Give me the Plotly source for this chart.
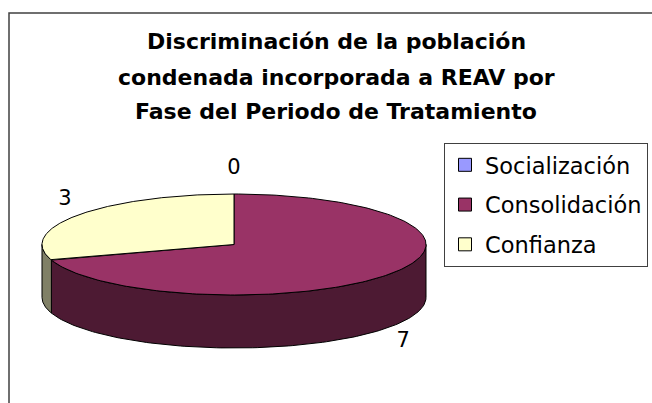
import numpy as np
import plotly.graph_objects as go

# ---------------- data ----------------
categories = ["Socialización", "Consolidación", "Confianza"]
values = [0, 7, 3]
label_texts = ["0", "7", "3"]
title_lines = [
    "Discriminación de la población",
    "condenada incorporada a REAV por",
    "Fase del Periodo de Tratamiento",
]

# ---------------- style / geometry ----------------
W, H = 652, 403
top_colors = ["#9999FF", "#993366", "#FFFFCC"]
side_colors = ["#4D4D80", "#4D1A33", "#808066"]
CX, CY = 234.0, 244.5      # centre of the top ellipse (px)
RX, RY = 192.0, 50.5       # radii of the top ellipse (px)
DEPTH = 53.0               # thickness of the pie (px)
LBL_DX, LBL_DY = 17.0, 25.0
FONT = "DejaVu Sans, Arial, sans-serif"


def rim(theta_deg, dz=0.0):
    t = np.radians(theta_deg)
    return CX + RX * np.sin(t), CY - RY * np.cos(t) + dz


fig = go.Figure()

total = float(sum(values))
starts = np.concatenate([[0.0], np.cumsum(values)[:-1]]) / total * 360.0
ends = np.cumsum(values) / total * 360.0

# side walls (front half only: 90..270 deg clockwise from top)
for i, (a0, a1) in enumerate(zip(starts, ends)):
    lo, hi = max(a0, 90.0), min(a1, 270.0)
    if hi <= lo:
        continue
    th = np.linspace(lo, hi, 120)
    xt, yt = rim(th)
    xb, yb = rim(th[::-1], DEPTH)
    xs = np.concatenate([xt, xb, xt[:1]])
    ys = np.concatenate([yt, yb, yt[:1]])
    fig.add_trace(go.Scatter(x=xs, y=ys, mode="lines", fill="toself",
                             fillcolor=side_colors[i],
                             line=dict(color="black", width=1),
                             hoverinfo="skip", showlegend=False))

# top faces
for i, (a0, a1) in enumerate(zip(starts, ends)):
    if a1 - a0 <= 0:
        continue
    th = np.linspace(a0, a1, 200)
    xa, ya = rim(th)
    xs = np.concatenate([[CX], xa, [CX]])
    ys = np.concatenate([[CY], ya, [CY]])
    fig.add_trace(go.Scatter(x=xs, y=ys, mode="lines", fill="toself",
                             fillcolor=top_colors[i],
                             line=dict(color="black", width=1),
                             hoverinfo="text", text=f"{categories[i]}: {values[i]}",
                             showlegend=False))

# data labels
mids = (starts + ends) / 2.0
lx, ly = [], []
for m in mids:
    t = np.radians(m)
    x = CX + (RX + LBL_DX) * np.sin(t)
    y = CY - (RY + LBL_DY) * np.cos(t) + (DEPTH if np.cos(t) < 0 else 0.0)
    lx.append(x)
    ly.append(y)
fig.add_trace(go.Scatter(x=lx, y=ly, mode="text", text=label_texts,
                         textposition="middle center",
                         textfont=dict(family=FONT, size=21, color="black"),
                         hoverinfo="skip", showlegend=False))

# legend entries
for i, c in enumerate(categories):
    fig.add_trace(go.Scatter(x=[None], y=[None], mode="markers", name=c,
                             legendgroup=c,
                             marker=dict(symbol="square", size=13,
                                         color=top_colors[i],
                                         line=dict(color="black", width=1))))

# title lines
title_y = [42, 77, 111.5]
for txt, yc in zip(title_lines, title_y):
    fig.add_annotation(text=f"<b>{txt}</b>", xref="paper", yref="paper",
                       x=336 / W, y=1 - yc / H, xanchor="center", yanchor="middle",
                       showarrow=False,
                       font=dict(family=FONT, size=22, color="black"))

# chart-area frame
fig.add_shape(type="rect", xref="paper", yref="paper",
              x0=9 / W, y0=1 - 13 / H, x1=1.2, y1=-0.2,
              line=dict(color="#404040", width=1.5), fillcolor="rgba(0,0,0,0)",
              layer="below")

fig.update_layout(
    width=W, height=H, autosize=False,
    margin=dict(l=0, r=0, t=0, b=0, pad=0),
    paper_bgcolor="white", plot_bgcolor="white",
    xaxis=dict(range=[0, W], visible=False, fixedrange=True),
    yaxis=dict(range=[H, 0], visible=False, fixedrange=True),
    showlegend=True,
    legend=dict(x=648 / W, xanchor="right", y=1 - 142.7 / H, yanchor="top",
                bordercolor="#404040", borderwidth=1, bgcolor="white",
                font=dict(family=FONT, size=22.5, color="black"),
                traceorder="grouped", tracegroupgap=7.5),
)

fig.write_html(
    "out.html",
    config={"displayModeBar": False},
    post_script="document.body.style.margin='0';document.body.style.overflow='hidden';",
)
